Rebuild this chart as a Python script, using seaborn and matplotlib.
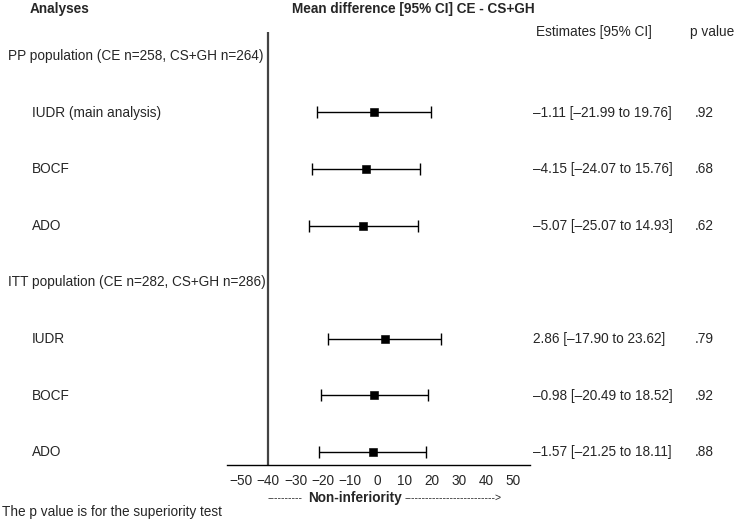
import numpy as np
import pandas as pd
import matplotlib
matplotlib.use("Agg")
import matplotlib.pyplot as plt
import seaborn as sns

# --- data ---
row_labels = ["PP population (CE n=258, CS+GH n=264)", "IUDR (main analysis)", "BOCF", "ADO",
              "ITT population (CE n=282, CS+GH n=286)", "IUDR", "BOCF", "ADO"]
is_header = [True, False, False, False, True, False, False, False]
means = [np.nan, -1.11, -4.15, -5.07, np.nan, 2.86, -0.98, -1.57]
lows = [np.nan, -21.99, -24.07, -25.07, np.nan, -17.90, -20.49, -21.25]
highs = [np.nan, 19.76, 15.76, 14.93, np.nan, 23.62, 18.52, 18.11]
p_values = ["", ".92", ".68", ".62", "", ".79", ".92", ".88"]
ticks = list(range(-50, 51, 10))
margin = -40

df = pd.DataFrame({"label": row_labels, "header": is_header, "mean": means,
                   "low": lows, "high": highs, "p": p_values})
df["row"] = np.arange(len(df))
fx = df.dropna(subset=["mean"])

sns.set_style("white")
plt.rcParams["font.family"] = ["Liberation Sans", "DejaVu Sans"]
FS = 9.8

fig = plt.figure(figsize=(7.4, 5.2), dpi=100)
# axes spans pixel x 227..530, y 32..465
ax = fig.add_axes([227 / 740, 1 - 465 / 520, 303 / 740, 433 / 520])

ax.errorbar(fx["mean"], fx["row"], xerr=[fx["mean"] - fx["low"], fx["high"] - fx["mean"]],
            fmt="none", ecolor="black", elinewidth=1.0, capsize=4.5, capthick=1.0)
sns.scatterplot(data=fx, x="mean", y="row", marker="s", color="black", s=28,
                edgecolor="black", ax=ax, legend=False, zorder=3)

ax.axvline(margin, color="#444444", lw=1.6)
ax.set_xlim(-55.2, 56.2)
ax.set_ylim(7.23, -0.42)
ax.set_xticks(ticks)
ax.set_xticklabels([str(t).replace("-", "\u2212") for t in ticks], fontsize=FS)
ax.set_yticks([])
ax.set_xlabel("")
ax.set_ylabel("")
for s in ["top", "left", "right"]:
    ax.spines[s].set_visible(False)
ax.spines["bottom"].set_color("black")
ax.spines["bottom"].set_linewidth(1.0)
ax.tick_params(axis="x", direction="out", length=5, width=1, color="black", pad=1.5)

# row texts
to_fig = lambda r: 1 - (56 + 56.6 * r) / 520
for _, r in df.iterrows():
    x0 = 8 / 740 if r["header"] else 32 / 740
    fig.text(x0, to_fig(r["row"]), r["label"], fontsize=FS, va="center", ha="left")
    if not r["header"]:
        est = f"{r['mean']:.2f} [{r['low']:.2f} to {r['high']:.2f}]".replace("-", "\u2013")
        fig.text(533 / 740, to_fig(r["row"]), est, fontsize=FS, va="center", ha="left")
        fig.text(695 / 740, to_fig(r["row"]), r["p"], fontsize=FS, va="center", ha="left")

# headers
fig.text(30 / 740, 1 - 9 / 520, "Analyses", fontsize=FS, fontweight="bold", va="center")
fig.text(292 / 740, 1 - 9 / 520, "Mean difference [95% CI] CE - CS+GH", fontsize=FS,
         fontweight="bold", va="center")
fig.text(536 / 740, 1 - 32 / 520, "Estimates [95% CI]", fontsize=FS, va="center")
fig.text(690 / 740, 1 - 32 / 520, "p value", fontsize=FS, va="center")

# non-inferiority arrow text
fig.text(268 / 740, 1 - 498 / 520, "-" * 10, fontsize=7.5, va="center")
fig.text(308 / 740, 1 - 498 / 520, "Non-inferiority", fontsize=FS, fontweight="bold", va="center")
fig.text(405 / 740, 1 - 498 / 520, "-" * 26 + ">", fontsize=7.5, va="center")

fig.text(2 / 740, 1 - 512 / 520, "The p value is for the superiority test", fontsize=FS, va="center")

fig.savefig("out.png", dpi=100)
